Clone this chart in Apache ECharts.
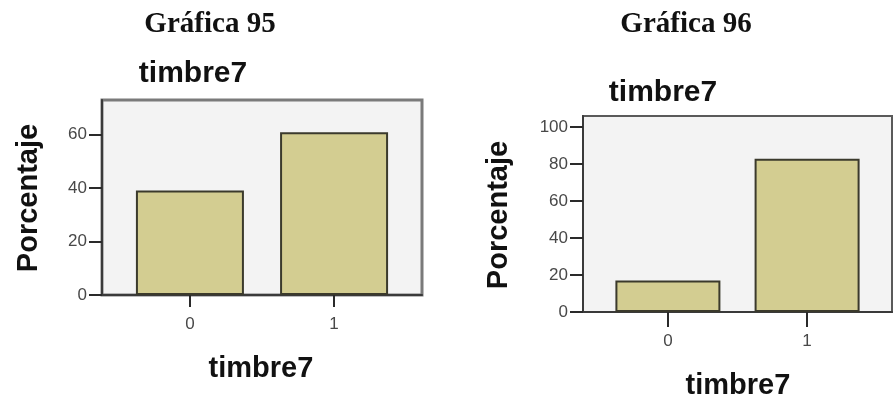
<!DOCTYPE html>
<html>
<head>
<meta charset="utf-8">
<style>
  html, body { margin: 0; padding: 0; background: #ffffff; }
  #chart { width: 893px; height: 398px; }
</style>
<script src="https://cdn.jsdelivr.net/npm/echarts@6/dist/echarts.min.js"></script>
</head>
<body>
<div id="chart"></div>
<script>
// Response codes of the variable timbre7
const categories = [0, 1];
// Percentages per response code
const values95 = [39.1, 60.9];
const values96 = [17.1, 82.9];
// Tick labels on the percentage axes
const yTicks95 = [0, 20, 40, 60];
const yTicks96 = [0, 20, 40, 60, 80, 100];

const headingFont = 'bold 29px "Liberation Serif", "Times New Roman", serif';
const sansBold = '"Liberation Sans", Arial, sans-serif';
const barFill = '#d3cd91';
const barEdge = '#3b3a2c';
const labelColor = '#484848';

function xAxisFor(gridIndex, tickLen, margin) {
  return {
    type: 'value', gridIndex: gridIndex, min: -0.61, max: 1.61,
    axisLine: { show: true, onZero: false, lineStyle: { color: '#3a3a3a', width: 2 } },
    axisTick: { show: true, inside: false, length: tickLen, customValues: categories,
                lineStyle: { color: '#2a2a2a', width: 2 } },
    axisLabel: { show: true, margin: margin, customValues: categories,
                 color: labelColor, fontSize: 17, fontFamily: sansBold,
                 formatter: v => String(v) },
    splitLine: { show: false }
  };
}

function yAxisFor(gridIndex, max, ticks) {
  return {
    type: 'value', gridIndex: gridIndex, min: 0, max: max, interval: 20,
    axisLine: { show: true, onZero: false, lineStyle: { color: '#3a3a3a', width: 2 } },
    axisTick: { show: true, inside: false, length: 13, customValues: ticks,
                lineStyle: { color: '#2a2a2a', width: 2 } },
    axisLabel: { show: true, margin: 15, customValues: ticks,
                 color: labelColor, fontSize: 17, fontFamily: sansBold },
    splitLine: { show: false }
  };
}

function barSeries(index, values, width) {
  return {
    type: 'bar', xAxisIndex: index, yAxisIndex: index,
    data: categories.map((c, i) => [c, values[i]]),
    barWidth: width,
    itemStyle: { color: barFill, borderColor: barEdge, borderWidth: 2 },
    silent: true, animation: false
  };
}

function text(str, x, y, size, rotation, font) {
  return {
    type: 'text', x: x, y: y, rotation: rotation || 0,
    style: {
      text: str, fill: '#111111',
      font: font || ('bold ' + size + 'px ' + sansBold),
      align: 'center', verticalAlign: 'middle'
    }
  };
}

const chart = echarts.init(document.getElementById('chart'), null, { renderer: 'canvas' });
chart.setOption({
  backgroundColor: '#ffffff',
  animation: false,
  grid: [
    { left: 102, top: 100, right: 471, bottom: 103, show: true,
      backgroundColor: '#f3f3f3', borderColor: '#7a7a7a', borderWidth: 3 },
    { left: 583, top: 116, right: 1, bottom: 86, show: true,
      backgroundColor: '#f3f3f3', borderColor: '#5a5a5a', borderWidth: 2 }
  ],
  xAxis: [xAxisFor(0, 12, 21), xAxisFor(1, 15, 21)],
  yAxis: [yAxisFor(0, 73, yTicks95), yAxisFor(1, 106, yTicks96)],
  series: [barSeries(0, values95, 108), barSeries(1, values96, 105)],
  graphic: [
    text('Gráfica 95', 210, 25, 29, 0, headingFont),
    text('Gráfica 96', 686, 25, 29, 0, headingFont),
    text('timbre7', 193, 74, 30),
    text('timbre7', 663, 93, 30),
    text('timbre7', 261, 369, 29),
    text('timbre7', 738, 386, 29),
    text('Porcentaje', 29, 198, 29, Math.PI / 2),
    text('Porcentaje', 499, 215, 29, Math.PI / 2)
  ]
});
</script>
</body>
</html>
